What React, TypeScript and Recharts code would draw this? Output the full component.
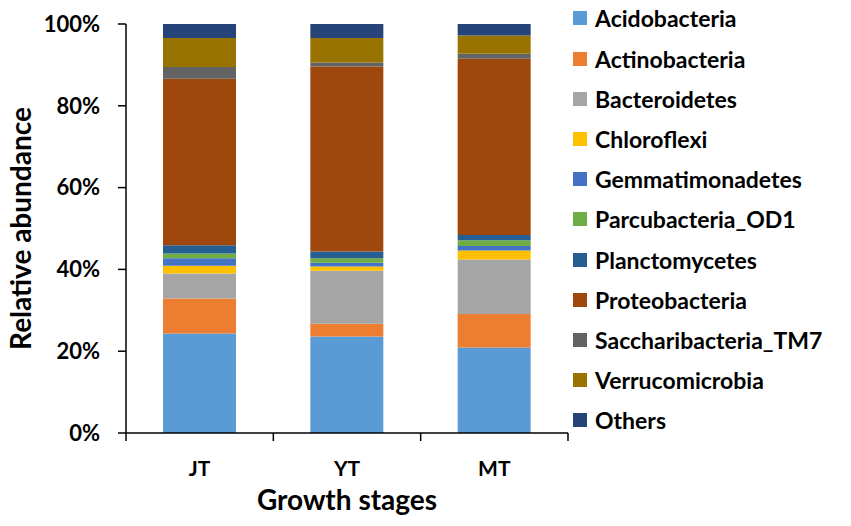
import React from 'react';
import { BarChart, Bar, XAxis, YAxis } from 'recharts';

const categories = ['JT', 'YT', 'MT'];
const acidobacteria = [24.3, 23.6, 20.9];
const actinobacteria = [8.6, 3.1, 8.2];
const bacteroidetes = [6.1, 13.0, 13.3];
const chloroflexi = [1.9, 1.0, 2.2];
const gemmatimonadetes = [1.8, 0.9, 1.1];
const parcubacteria = [1.2, 1.1, 1.4];
const planctomycetes = [2.0, 1.7, 1.3];
const proteobacteria = [40.7, 45.2, 43.1];
const saccharibacteria = [2.9, 1.0, 1.2];
const verrucomicrobia = [7.1, 6.0, 4.5];
const others = [3.4, 3.4, 2.8];

const yTicks = [0, 20, 40, 60, 80, 100];

const series = [
  { key: 'Acidobacteria', values: acidobacteria, color: '#5B9BD5' },
  { key: 'Actinobacteria', values: actinobacteria, color: '#ED7D31' },
  { key: 'Bacteroidetes', values: bacteroidetes, color: '#A5A5A5' },
  { key: 'Chloroflexi', values: chloroflexi, color: '#FFC000' },
  { key: 'Gemmatimonadetes', values: gemmatimonadetes, color: '#4472C4' },
  { key: 'Parcubacteria_OD1', values: parcubacteria, color: '#70AD47' },
  { key: 'Planctomycetes', values: planctomycetes, color: '#255E91' },
  { key: 'Proteobacteria', values: proteobacteria, color: '#9E480E' },
  { key: 'Saccharibacteria_TM7', values: saccharibacteria, color: '#636363' },
  { key: 'Verrucomicrobia', values: verrucomicrobia, color: '#997300' },
  { key: 'Others', values: others, color: '#264478' },
];

const data = categories.map((c, i) => {
  const row: any = { stage: c };
  series.forEach((s) => {
    row[s.key] = s.values[i];
  });
  return row;
});

const FONT = 'Lato, "Open Sans", sans-serif';
const CHART_W = 851;
const CHART_H = 526;
const MARGIN = { top: 24, right: 283, bottom: 0, left: 0 };
const Y_AXIS_W = 126;
const BAND = (CHART_W - MARGIN.left - MARGIN.right - Y_AXIS_W) / categories.length;

const XTick = (props: any) => {
  const { x, y, payload, index } = props;
  const half = BAND / 2;
  const axisY = y - 28;
  return (
    <g>
      {index === 0 && (
        <line x1={x - half} x2={x - half} y1={axisY} y2={axisY + 8} stroke="#000" strokeWidth={1.5} />
      )}
      <line x1={x + half} x2={x + half} y1={axisY} y2={axisY + 8} stroke="#000" strokeWidth={1.5} />
      <text
        x={x}
        y={y}
        dy="0.71em"
        textAnchor="middle"
        style={{ fontFamily: FONT, fontWeight: 700, fontSize: 21, fill: '#000' }}
      >
        {payload.value}
      </text>
    </g>
  );
};

const YLabel = (props: any) => {
  const vb = props.viewBox || {};
  const cx = (vb.x ?? 0) + 20;
  const cy = (vb.y ?? 0) + (vb.height ?? 0) / 2;
  return (
    <text
      x={cx}
      y={cy}
      transform={`rotate(-90, ${cx}, ${cy})`}
      textAnchor="middle"
      dominantBaseline="central"
      style={{ fontFamily: FONT, fontWeight: 700, fontSize: 28, fill: '#000' }}
    >
      Relative abundance
    </text>
  );
};

export default function App() {
  return (
    <div style={{ position: 'absolute', left: 0, top: 0, width: CHART_W, height: CHART_H, background: '#fff' }}>
      <BarChart width={CHART_W} height={CHART_H} data={data} margin={MARGIN}>
        <XAxis
          dataKey="stage"
          height={93}
          tickLine={false}
          tickSize={0}
          tickMargin={28}
          axisLine={{ stroke: '#000', strokeWidth: 1.5 }}
          tick={<XTick />}
          interval={0}
          label={{
            value: 'Growth stages',
            position: 'insideBottom',
            offset: 16,
            style: { fontFamily: FONT, fontWeight: 700, fontSize: 28, fill: '#000' },
          }}
        />
        <YAxis
          width={Y_AXIS_W}
          domain={[0, 100]}
          ticks={yTicks}
          tickFormatter={(v: number) => `${v}%`}
          tickSize={8}
          tickMargin={18}
          axisLine={{ stroke: '#000', strokeWidth: 1.5 }}
          tickLine={{ stroke: '#000', strokeWidth: 1.5 }}
          tick={{ fontFamily: FONT, fontWeight: 700, fontSize: 22, fill: '#000' }}
          label={<YLabel />}
        />
        <Bar dataKey="Acidobacteria" stackId="a" fill="#5B9BD5" barSize={73} isAnimationActive={false} />
        <Bar dataKey="Actinobacteria" stackId="a" fill="#ED7D31" barSize={73} isAnimationActive={false} />
        <Bar dataKey="Bacteroidetes" stackId="a" fill="#A5A5A5" barSize={73} isAnimationActive={false} />
        <Bar dataKey="Chloroflexi" stackId="a" fill="#FFC000" barSize={73} isAnimationActive={false} />
        <Bar dataKey="Gemmatimonadetes" stackId="a" fill="#4472C4" barSize={73} isAnimationActive={false} />
        <Bar dataKey="Parcubacteria_OD1" stackId="a" fill="#70AD47" barSize={73} isAnimationActive={false} />
        <Bar dataKey="Planctomycetes" stackId="a" fill="#255E91" barSize={73} isAnimationActive={false} />
        <Bar dataKey="Proteobacteria" stackId="a" fill="#9E480E" barSize={73} isAnimationActive={false} />
        <Bar dataKey="Saccharibacteria_TM7" stackId="a" fill="#636363" barSize={73} isAnimationActive={false} />
        <Bar dataKey="Verrucomicrobia" stackId="a" fill="#997300" barSize={73} isAnimationActive={false} />
        <Bar dataKey="Others" stackId="a" fill="#264478" barSize={73} isAnimationActive={false} />
      </BarChart>
      <div style={{ position: 'absolute', left: 573, top: 0 }}>
        {series.map((s, i) => (
          <div
            key={s.key}
            style={{
              position: 'absolute',
              left: 0,
              top: 18.3 + i * 40.2 - 15,
              height: 30,
              display: 'flex',
              alignItems: 'center',
              whiteSpace: 'nowrap',
            }}
          >
            <div style={{ width: 14, height: 14, background: s.color }} />
            <span
              style={{
                marginLeft: 8,
                fontFamily: FONT,
                fontWeight: 700,
                fontSize: 23,
                color: '#000',
                lineHeight: '30px',
              }}
            >
              {s.key}
            </span>
          </div>
        ))}
      </div>
    </div>
  );
}
